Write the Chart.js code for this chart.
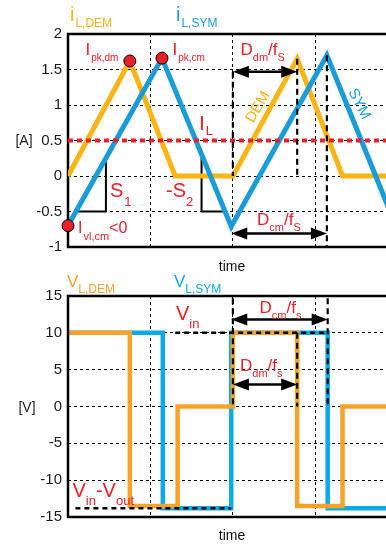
<!DOCTYPE html>
<html>
<head>
<meta charset="utf-8">
<script src="https://cdn.jsdelivr.net/npm/chart.js@4.4.1/dist/chart.umd.min.js"></script>
<style>
  html, body { margin: 0; padding: 0; background: #fff; overflow: hidden; }
  #wrap { position: relative; width: 386px; height: 545px; overflow: hidden; }
  .box { position: absolute; left: 0; width: 400px; }
  #top { top: 0; height: 272px; }
  #bot { top: 272px; height: 273px; }
</style>
</head>
<body>
<div id="wrap">
  <div class="box" id="top"><canvas id="currentChart"></canvas></div>
  <div class="box" id="bot"><canvas id="voltageChart"></canvas></div>
</div>
<script>
// time axis, one grid division per unit (no tick labels, just "time")
const timeGrid = [0, 1, 2, 3];
const timeMax = 3.93;

// inductor current [A]
const currentTicks = [-1, -0.5, 0, 0.5, 1, 1.5, 2];
const demTime = [0, 0.75, 1.3, 2.0, 2.78, 3.33, 4.5];
const demCurrent = [0, 1.62, 0, 0, 1.65, 0, 0];
const symTime = [0, 1.14, 1.98, 3.14, 3.98];
const symCurrent = [-0.7, 1.66, -0.71, 1.7, -0.71];
const avgCurrent = 0.5;

// inductor voltage [V]
const voltageTicks = [-15, -10, -5, 0, 5, 10, 15];
const demVTime = [0, 0.75, 0.75, 1.33, 1.33, 2.0, 2.0, 2.78, 2.78, 3.33, 3.33, 4.5];
const demVoltage = [10, 10, -13.5, -13.5, 0, 0, 10, 10, -13.5, -13.5, 0, 0];
const symVTime = [0, 1.15, 1.15, 1.98, 1.98, 3.15, 3.15, 4.5];
const symVoltage = [10, 10, -13.8, -13.8, 10, 10, -13.8, -13.8];
const vIn = 10;
const vInMinusOut = -13.8;

const FONT = '"Liberation Sans", Arial, Helvetica, sans-serif';
const RED = '#E8202A';
const GOLD = '#FDB515';
const BLUE_TOP = '#1A9CD8';
const ORANGE = '#F7A228';
const BLUE_BOT = '#0AA9E8';

function toXY(xs, ys) {
    return xs.map((x, i) => ({ x: x, y: ys[i] }));
}

function valueAt(xs, ys, t) {
    for (let i = 1; i < xs.length; i++) {
        if (t <= xs[i]) {
            const f = (t - xs[i - 1]) / (xs[i] - xs[i - 1]);
            return ys[i - 1] + f * (ys[i] - ys[i - 1]);
        }
    }
    return ys[ys.length - 1];
}

// time where segment `seg` of a polyline crosses `level`
function timeAt(xs, ys, level, seg) {
    const f = (level - ys[seg]) / (ys[seg + 1] - ys[seg]);
    return xs[seg] + f * (xs[seg + 1] - xs[seg]);
}

// text with subscripts: parts = [text, size, dy, gap]
function richText(ctx, x, y, color, parts) {
    ctx.save();
    ctx.fillStyle = color;
    ctx.textAlign = 'left';
    ctx.textBaseline = 'alphabetic';
    let cx = x;
    parts.forEach(p => {
        cx += p[3] || 0;
        ctx.font = p[1] + 'px ' + FONT;
        ctx.fillText(p[0], cx, y + (p[2] || 0));
        cx += ctx.measureText(p[0]).width;
    });
    ctx.restore();
}

function plainText(ctx, txt, x, y, size, color, angle) {
    ctx.save();
    ctx.translate(x, y);
    ctx.rotate((angle || 0) * Math.PI / 180);
    ctx.font = size + 'px ' + FONT;
    ctx.fillStyle = color;
    ctx.textAlign = 'center';
    ctx.textBaseline = 'middle';
    ctx.fillText(txt, 0, 0);
    ctx.restore();
}

function frame(ctx, a) {
    ctx.save();
    ctx.strokeStyle = '#000';
    ctx.lineWidth = 2.5;
    ctx.setLineDash([]);
    ctx.beginPath();
    ctx.moveTo(a.right + 10, a.top);
    ctx.lineTo(a.left, a.top);
    ctx.lineTo(a.left, a.bottom);
    ctx.lineTo(a.right + 10, a.bottom);
    ctx.stroke();
    ctx.restore();
}

function dashedV(ctx, x, y1, y2) {
    ctx.save();
    ctx.strokeStyle = '#000';
    ctx.lineWidth = 2.2;
    ctx.setLineDash([6, 4]);
    ctx.beginPath();
    ctx.moveTo(x, y1);
    ctx.lineTo(x, y2);
    ctx.stroke();
    ctx.restore();
}

function dashedH(ctx, x1, x2, y) {
    ctx.save();
    ctx.strokeStyle = '#000';
    ctx.lineWidth = 2.5;
    ctx.setLineDash([5, 4]);
    ctx.beginPath();
    ctx.moveTo(x1, y);
    ctx.lineTo(x2, y);
    ctx.stroke();
    ctx.restore();
}

function arrow(ctx, x1, x2, y) {
    const hl = 16, hw = 6;
    ctx.save();
    ctx.strokeStyle = '#000';
    ctx.fillStyle = '#000';
    ctx.lineWidth = 2.5;
    ctx.setLineDash([]);
    ctx.beginPath();
    ctx.moveTo(x1 + hl - 2, y);
    ctx.lineTo(x2 - hl + 2, y);
    ctx.stroke();
    ctx.beginPath();
    ctx.moveTo(x1, y);
    ctx.lineTo(x1 + hl, y - hw);
    ctx.lineTo(x1 + hl, y + hw);
    ctx.closePath();
    ctx.fill();
    ctx.beginPath();
    ctx.moveTo(x2, y);
    ctx.lineTo(x2 - hl, y - hw);
    ctx.lineTo(x2 - hl, y + hw);
    ctx.closePath();
    ctx.fill();
    ctx.restore();
}

function axisOptions(ticks, width) {
    return {
        type: 'linear',
        min: ticks[0],
        max: ticks[ticks.length - 1],
        afterBuildTicks: s => { s.ticks = ticks.map(v => ({ value: v })); },
        afterFit: s => { s.width = width; },
        ticks: {
            font: { family: FONT, size: 15 },
            color: '#1a1a1a',
            padding: 6,
            callback: v => String(v)
        },
        grid: { color: '#000', lineWidth: 1, drawTicks: false },
        border: { display: false, dash: [3, 3] }
    };
}

function timeAxis(height) {
    return {
        type: 'linear',
        min: 0,
        max: timeMax,
        afterBuildTicks: s => { s.ticks = timeGrid.map(v => ({ value: v })); },
        afterFit: s => { s.height = height; },
        ticks: { display: false },
        grid: { color: '#000', lineWidth: 1, drawTicks: false },
        border: { display: false, dash: [3, 3] }
    };
}

function lineSet(label, xs, ys, color, width, order) {
    return {
        label: label,
        data: toXY(xs, ys),
        showLine: true,
        borderColor: color,
        backgroundColor: color,
        borderWidth: width,
        pointRadius: 0,
        order: order
    };
}

// ---------- current chart ----------
const slopeMarks = [0.46, 1.62];
const slopeBase = -0.5;

const currentNotes = {
    id: 'currentNotes',
    beforeDatasetsDraw(chart) {
        const { ctx, chartArea: a, scales } = chart;
        const px = v => scales.x.getPixelForValue(v);
        const py = v => scales.y.getPixelForValue(v);
        frame(ctx, a);
        // slope triangles S1 / -S2 under the SYM current
        ctx.save();
        ctx.strokeStyle = '#000';
        ctx.lineWidth = 2;
        slopeMarks.forEach((t, seg) => {
            const top = valueAt(symTime, symCurrent, t);
            const foot = timeAt(symTime, symCurrent, slopeBase, seg);
            ctx.beginPath();
            ctx.moveTo(px(t), py(top));
            ctx.lineTo(px(t), py(slopeBase));
            ctx.lineTo(px(foot), py(slopeBase));
            ctx.stroke();
        });
        ctx.restore();
    },
    afterDatasetsDraw(chart) {
        const { ctx, chartArea: a, scales } = chart;
        const px = v => scales.x.getPixelForValue(v);
        const py = v => scales.y.getPixelForValue(v);
        const ddmLevel = 1.47, dcmLevel = -0.81;

        dashedV(ctx, px(demTime[3]), py(ddmLevel), py(0));
        dashedV(ctx, px(demTime[4]), py(demCurrent[4]), py(0));
        dashedV(ctx, px(symTime[3]), py(symCurrent[3]), a.bottom);
        arrow(ctx, px(demTime[3]), px(demTime[4]), py(ddmLevel));
        arrow(ctx, px(symTime[2]), px(symTime[3]), py(dcmLevel));

        richText(ctx, 70, 21, GOLD, [['i', 20], ['L,DEM', 12, 6, 1]]);
        richText(ctx, 176, 21, BLUE_TOP, [['i', 20], ['L,SYM', 12, 6, 1]]);
        richText(ctx, 85.5, 55, RED, [['I', 17], ['pk,dm', 10, 6, 1]]);
        richText(ctx, 172.5, 55, RED, [['I', 17], ['pk,cm', 10, 6, 1]]);
        richText(ctx, 199, 130, RED, [['I', 21], ['L', 13, 5, 1]]);
        richText(ctx, 110, 197, RED, [['S', 20], ['1', 13, 9, 1]]);
        richText(ctx, 166, 197, RED, [['-S', 20], ['2', 13, 9, 0]]);
        richText(ctx, 78, 232.5, RED, [['I', 16], ['vl,cm', 11, 7, 1], ['<0', 16, 0, 0]]);
        richText(ctx, 240.5, 55, RED, [['D', 17], ['dm', 11, 6], ['/f', 17], ['S', 11, 6]]);
        richText(ctx, 257, 225, RED, [['D', 17], ['cm', 11, 6], ['/f', 17], ['S', 11, 6]]);
        plainText(ctx, 'DEM', 258, 107, 15, GOLD, -59);
        plainText(ctx, 'SYM', 359, 104, 15, BLUE_TOP, 63);
        plainText(ctx, '[A]', 24, 141, 14, '#222');
        plainText(ctx, 'time', 232, 267, 14, '#111');
    }
};

new Chart(document.getElementById('currentChart'), {
    type: 'scatter',
    data: {
        datasets: [
            {
                label: 'peaks',
                data: [
                    { x: demTime[1], y: demCurrent[1] },
                    { x: symTime[1], y: symCurrent[1] },
                    { x: symTime[0], y: symCurrent[0] }
                ],
                pointRadius: 6,
                pointBackgroundColor: RED,
                pointBorderColor: '#000',
                pointBorderWidth: 1,
                clip: false,
                order: 0
            },
            {
                label: 'I_L',
                data: [{ x: 0, y: avgCurrent }, { x: 4.5, y: avgCurrent }],
                showLine: true,
                borderColor: RED,
                borderWidth: 4,
                borderDash: [5, 4],
                pointRadius: 0,
                order: 1
            },
            lineSet('i_L,SYM', symTime, symCurrent, BLUE_TOP, 5, 2),
            lineSet('i_L,DEM', demTime, demCurrent, GOLD, 5, 3)
        ]
    },
    options: {
        responsive: true,
        maintainAspectRatio: false,
        animation: false,
        events: [],
        layout: { padding: { top: 34, right: 8, left: 0, bottom: 0 } },
        plugins: { legend: { display: false }, tooltip: { enabled: false } },
        scales: {
            x: timeAxis(25),
            y: axisOptions(currentTicks, 68)
        }
    },
    plugins: [currentNotes]
});

// ---------- voltage chart ----------
const vinLineStart = 1.3;
const vioLineStart = 0.09;

const voltageNotes = {
    id: 'voltageNotes',
    afterDatasetsDraw(chart) {
        const { ctx, chartArea: a, scales } = chart;
        const px = v => scales.x.getPixelForValue(v);
        const py = v => scales.y.getPixelForValue(v);
        const dcmLevel = 11.8, ddmLevel = 3, markTop = 14.7;

        frame(ctx, a);
        dashedH(ctx, px(vinLineStart), px(symVTime[5]), py(vIn));
        dashedH(ctx, px(vioLineStart), px(symVTime[3]), py(vInMinusOut));
        dashedV(ctx, px(demVTime[5]), py(markTop), py(0));
        dashedV(ctx, px(demVTime[7]), py(vIn), py(0));
        dashedV(ctx, px(symVTime[5]), py(markTop), py(0));
        arrow(ctx, px(symVTime[3]), px(symVTime[5]), py(dcmLevel));
        arrow(ctx, px(demVTime[5]), px(demVTime[7]), py(ddmLevel));

        richText(ctx, 67, 15, ORANGE, [['V', 17], ['L,DEM', 12, 6, 0]]);
        richText(ctx, 174, 15, BLUE_BOT, [['V', 17], ['L,SYM', 12, 6, 0]]);
        richText(ctx, 176, 48, RED, [['V', 20], ['in', 13, 8, 0]]);
        richText(ctx, 259.5, 41, RED, [['D', 17], ['cm', 11, 6], ['/f', 17], ['s', 11, 6]]);
        richText(ctx, 240, 99, RED, [['D', 17], ['dm', 11, 6], ['/f', 17], ['s', 11, 6]]);
        richText(ctx, 72.5, 225, RED, [['V', 20], ['in', 13, 8], ['-V', 20], ['out', 13, 8]]);
        plainText(ctx, '[V]', 27, 136, 14, '#222');
        plainText(ctx, 'time', 232, 264, 14, '#111');
    }
};

new Chart(document.getElementById('voltageChart'), {
    type: 'scatter',
    data: {
        datasets: [
            lineSet('V_L,DEM', demVTime, demVoltage, ORANGE, 4.5, 0),
            lineSet('V_L,SYM', symVTime, symVoltage, BLUE_BOT, 4.5, 1)
        ]
    },
    options: {
        responsive: true,
        maintainAspectRatio: false,
        animation: false,
        events: [],
        layout: { padding: { top: 24, right: 8, left: 0, bottom: 0 } },
        plugins: { legend: { display: false }, tooltip: { enabled: false } },
        scales: {
            x: timeAxis(28),
            y: axisOptions(voltageTicks, 68)
        }
    },
    plugins: [voltageNotes]
});
</script>
</body>
</html>
